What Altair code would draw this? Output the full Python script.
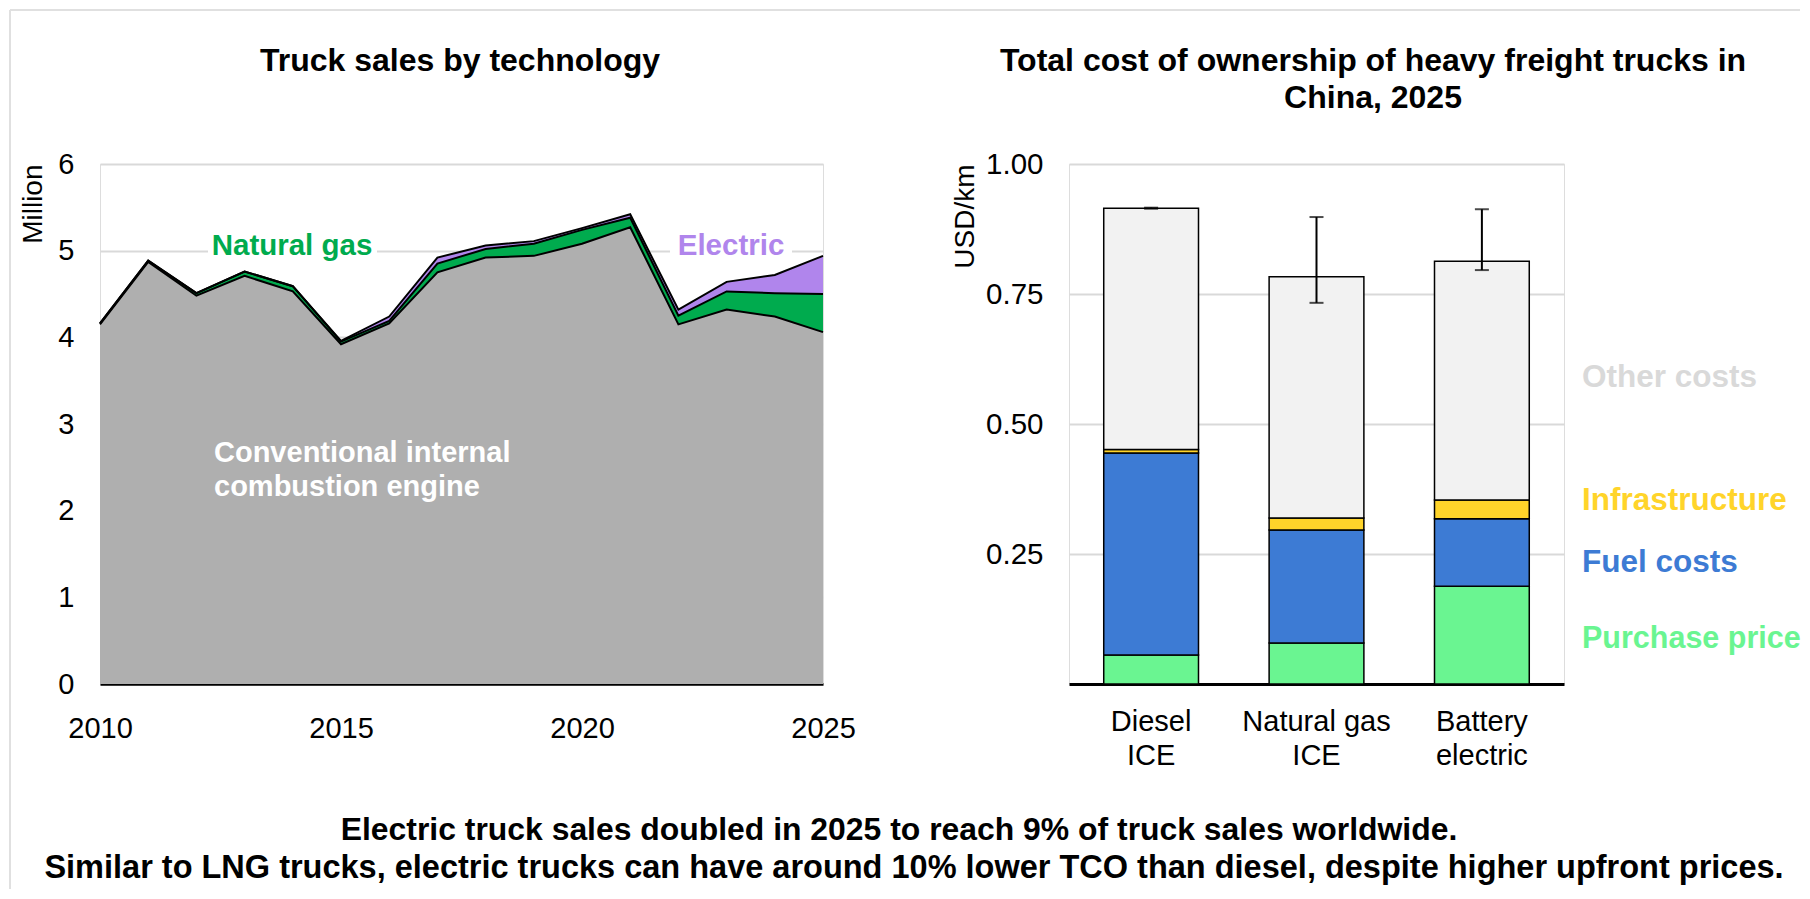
import altair as alt
import pandas as pd

FONT = "Liberation Sans"

# ---------------- Left panel data: truck sales (million) ----------------
years = list(range(2010, 2026))
ice = [4.15, 4.87, 4.48, 4.71, 4.53, 3.92, 4.16, 4.75, 4.92, 4.94, 5.08, 5.27, 4.15, 4.32, 4.24, 4.06]
natgas = [0.01, 0.015, 0.03, 0.05, 0.06, 0.03, 0.03, 0.10, 0.10, 0.14, 0.16, 0.11, 0.10, 0.21, 0.27, 0.44]
electric = [0.0, 0.0, 0.0, 0.0, 0.0, 0.01, 0.05, 0.07, 0.04, 0.03, 0.02, 0.04, 0.07, 0.11, 0.21, 0.44]
techs = ["Conventional ICE", "Natural gas", "Electric"]
tech_colors = ["#afafaf", "#00ab4e", "#b085ec"]

# ---------------- Right panel data: TCO (USD/km) ----------------
cats = ["Diesel\nICE", "Natural gas\nICE", "Battery\nelectric"]
comps = ["Purchase price", "Fuel costs", "Infrastructure", "Other costs"]
comp_colors = ["#6af591", "#3d7bd4", "#ffd42a", "#f2f2f2"]
purchase = [0.056, 0.079, 0.188]
fuel = [0.388, 0.217, 0.130]
infra = [0.007, 0.023, 0.036]
other = [0.464, 0.464, 0.459]
err_lo = [0.914, 0.733, 0.796]
err_hi = [0.916, 0.898, 0.913]

# ---------------- build tables ----------------
rows = []
for i, yr in enumerate(years):
    base = 0.0
    for t, series in zip(techs, [ice, natgas, electric]):
        v = series[i]
        rows.append({"year": yr, "tech": t, "lo": base, "hi": base + v})
        base += v
area_df = pd.DataFrame(rows)

brows = []
for i, c in enumerate(cats):
    base = 0.0
    for comp, series in zip(comps, [purchase, fuel, infra, other]):
        v = series[i]
        brows.append({"cat": c, "comp": comp, "lo": base, "hi": base + v})
        base += v
bar_df = pd.DataFrame(brows)
err_df = pd.DataFrame({"cat": cats, "lo": err_lo, "hi": err_hi})
one = pd.DataFrame({"k": [0]})


def label(text, x, y, size, color, weight="bold", align="left"):
    return alt.Chart(one).mark_text(
        text=text, fontSize=size, color=color, fontWeight=weight,
        align=align, baseline="alphabetic", font=FONT
    ).encode(x=alt.value(x), y=alt.value(y))


# ---------------- left chart ----------------
x_left = alt.X(
    "year:Q",
    scale=alt.Scale(domain=[2010, 2025], nice=False, zero=False),
    axis=alt.Axis(values=[2010, 2015, 2020, 2025], format="d", grid=False,
                  domain=True, domainColor="black", domainWidth=2.5, ticks=False,
                  labelPadding=30, labelFontSize=29, labelColor="black",
                  labelFont=FONT, labelFlush=False, labelOverlap=False, title=None),
)
y_axis_left = alt.Axis(values=[0, 1, 2, 3, 4, 5, 6], grid=True, gridColor="#d9d9d9",
                       gridWidth=2, domain=False, ticks=False, labelPadding=26,
                       labelFontSize=29, labelColor="black", labelFont=FONT,
                       title="Million", titleFontSize=28, titleFontWeight="normal",
                       titleFont=FONT, titleColor="black", titleX=-67, titleY=0,
                       titleAngle=-90, titleAlign="right", titleBaseline="middle")
y_scale_left = alt.Scale(domain=[0, 6], nice=False)

areas = alt.Chart(area_df).mark_area(opacity=1).encode(
    x=x_left,
    y=alt.Y("hi:Q", scale=y_scale_left, axis=y_axis_left),
    y2="lo:Q",
    color=alt.Color("tech:N", scale=alt.Scale(domain=techs, range=tech_colors), legend=None),
)
lines = alt.Chart(area_df).mark_line(color="black", strokeWidth=2).encode(
    x=x_left,
    y=alt.Y("hi:Q", scale=y_scale_left, axis=y_axis_left),
    detail="tech:N",
)
mask1 = alt.Chart(one).mark_rect(color="white").encode(
    x=alt.value(108), x2=alt.value(277), y=alt.value(77), y2=alt.value(97))
mask2 = alt.Chart(one).mark_rect(color="white").encode(
    x=alt.value(570), x2=alt.value(692), y=alt.value(77), y2=alt.value(97))

frame_v = alt.Chart(one).mark_rule(color="#e0e0e0", strokeWidth=2).encode(
    x=alt.value(-90), y=alt.value(-154), y2=alt.value(725))
frame_h = alt.Chart(one).mark_rule(color="#e0e0e0", strokeWidth=2).encode(
    x=alt.value(-90), x2=alt.value(1700), y=alt.value(-154))

left = alt.layer(
    areas, lines, mask1, mask2,
    label("Natural gas", 192, 91, 29.5, "#00ab4e", align="center"),
    label("Electric", 631, 91, 29.5, "#b085ec", align="center"),
    label("Conventional internal", 114, 298, 29, "white"),
    label("combustion engine", 114, 332, 29, "white"),
    label("Truck sales by technology", 360, -93, 32, "black", align="center"),
    label("Electric truck sales doubled in 2025 to reach 9% of truck sales worldwide.",
          799, 676, 31.9, "black", align="center"),
    label("Similar to LNG trucks, electric trucks can have around 10% lower TCO than diesel, despite higher upfront prices.",
          814, 714, 32.5, "black", align="center"),
    frame_v, frame_h,
).properties(width=723, height=520)

# ---------------- right chart ----------------
x_right = alt.X(
    "cat:N",
    scale=alt.Scale(domain=cats, paddingInner=0.427, paddingOuter=0.21),
    axis=alt.Axis(domain=True, domainColor="black", domainWidth=3, ticks=False,
                  labelAngle=0, labelPadding=23, labelFontSize=29, labelColor="black",
                  labelFont=FONT, labelLineHeight=34,
                  labelExpr="split(datum.label, '\\n')", title=None),
)
y_axis_right = alt.Axis(values=[0.25, 0.5, 0.75, 1.0], format=".2f", grid=True,
                        gridColor="#d9d9d9", gridWidth=2, domain=False, ticks=False,
                        labelPadding=26, labelFontSize=29.5, labelColor="black",
                        labelFont=FONT, title="USD/km", titleFontSize=28,
                        titleFontWeight="normal", titleFont=FONT, titleColor="black",
                        titleX=-104, titleY=0, titleAngle=-90, titleAlign="right",
                        titleBaseline="middle")
y_scale_right = alt.Scale(domain=[0, 1.0], nice=False)

bars = alt.Chart(bar_df).mark_bar(stroke="black", strokeWidth=1.5).encode(
    x=x_right,
    y=alt.Y("hi:Q", scale=y_scale_right, axis=y_axis_right),
    y2="lo:Q",
    color=alt.Color("comp:N", scale=alt.Scale(domain=comps, range=comp_colors), legend=None),
)
err = alt.Chart(err_df).mark_rule(color="black", strokeWidth=2).encode(
    x=x_right, y=alt.Y("lo:Q", scale=y_scale_right, axis=y_axis_right), y2="hi:Q")
cap_lo = alt.Chart(err_df).mark_tick(color="black", thickness=2, size=14).encode(
    x=x_right, y=alt.Y("lo:Q", scale=y_scale_right, axis=y_axis_right))
cap_hi = alt.Chart(err_df).mark_tick(color="black", thickness=2, size=14).encode(
    x=x_right, y=alt.Y("hi:Q", scale=y_scale_right, axis=y_axis_right))

right = alt.layer(
    bars, err, cap_lo, cap_hi,
    label("Other costs", 513, 223, 31.5, "#d9d9d9"),
    label("Infrastructure", 513, 346, 31.5, "#ffd42a"),
    label("Fuel costs", 513, 408, 31.5, "#3d7bd4"),
    label("Purchase price", 513, 484, 30.5, "#6af591"),
    label("Total cost of ownership of heavy freight trucks in", 304, -93, 32, "black", align="center"),
    label("China, 2025", 304, -56, 32, "black", align="center"),
).properties(width=495, height=520)

chart = alt.hconcat(left, right, spacing=246, bounds="flush", padding=0).resolve_scale(
    x="independent", y="independent", color="independent"
).configure_view(stroke=None).configure(font=FONT, background="white")

chart.save("out.html", embed_options={"renderer": "svg", "actions": False})
